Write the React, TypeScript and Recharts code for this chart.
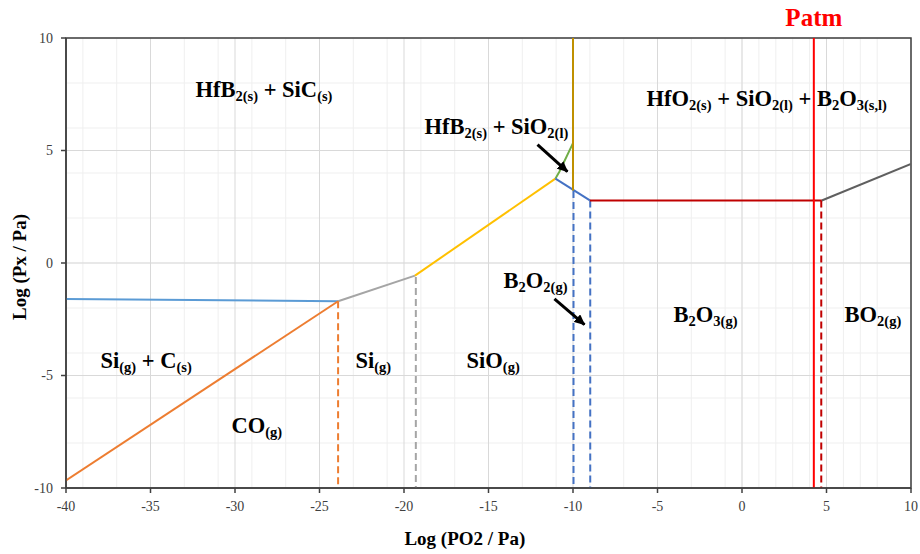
import React from 'react';
import {
  LineChart,
  Line,
  XAxis,
  YAxis,
  CartesianGrid,
  ReferenceDot,
  ReferenceLine,
  ReferenceArea,
} from 'recharts';

// ---------- axes ----------
const xMajorTicks = [-40, -35, -30, -25, -20, -15, -10, -5, 0, 5, 10];
const yMajorTicks = [-10, -5, 0, 5, 10];
const xMinorTicks = [
  -40, -39, -38, -37, -36, -35, -34, -33, -32, -31, -30, -29, -28, -27, -26, -25, -24, -23, -22, -21,
  -20, -19, -18, -17, -16, -15, -14, -13, -12, -11, -10, -9, -8, -7, -6, -5, -4, -3, -2, -1, 0, 1, 2,
  3, 4, 5, 6, 7, 8, 9, 10,
];
const yMinorTicks = [-10, -9, -8, -7, -6, -5, -4, -3, -2, -1, 0, 1, 2, 3, 4, 5, 6, 7, 8, 9, 10];

// ---------- phase boundaries (x = log PO2, y = log Px) ----------
const siCBoundary = [{ x: -40, y: -1.6 }, { x: -23.9, y: -1.7 }];
const coBoundary = [{ x: -40, y: -9.66 }, { x: -23.9, y: -1.7 }];
const siGasBoundary = [{ x: -23.9, y: -1.7 }, { x: -19.35, y: -0.56 }];
const sioBoundary = [{ x: -19.35, y: -0.56 }, { x: -11.04, y: 3.75 }];
const sio2Boundary = [{ x: -11.04, y: 3.75 }, { x: -10.8, y: 4.07 }, { x: -10.0, y: 5.33 }];
const hfo2Boundary = [{ x: -10.0, y: 3.22 }, { x: -10.0, y: 10 }];
const b2o2Boundary = [{ x: -11.04, y: 3.75 }, { x: -9.0, y: 2.78 }];
const b2o3Boundary = [{ x: -9.0, y: 2.78 }, { x: 4.72, y: 2.78 }];
const bo2Boundary = [{ x: 4.72, y: 2.78 }, { x: 10, y: 4.4 }];
const patmLine = [{ x: 4.25, y: -10 }, { x: 4.25, y: 10 }];

const coDash = [{ x: -23.9, y: -1.7 }, { x: -23.9, y: -10 }];
const siDash = [{ x: -19.3, y: -0.62 }, { x: -19.3, y: -10 }];
const b2o2DashA = [{ x: -9.97, y: 3.2 }, { x: -9.97, y: -10 }];
const b2o2DashB = [{ x: -8.98, y: 2.78 }, { x: -8.98, y: -10 }];
const bo2Dash = [{ x: 4.69, y: 2.78 }, { x: 4.69, y: -10 }];

// ---------- annotations ----------
type Part = [string, boolean];
const regionLabels: { x: number; y: number; parts: Part[] }[] = [
  { x: -32.34, y: 7.39, parts: [['HfB', false], ['2(s)', true], [' + SiC', false], ['(s)', true]] },
  { x: -18.79, y: 5.75, parts: [['HfB', false], ['2(s)', true], [' + SiO', false], ['2(l)', true]] },
  {
    x: -5.65,
    y: 6.99,
    parts: [
      ['HfO', false], ['2(s)', true], [' + SiO', false], ['2(l)', true],
      [' + B', false], ['2', true], ['O', false], ['3(s,l)', true],
    ],
  },
  { x: -14.11, y: -1.1, parts: [['B', false], ['2', true], ['O', false], ['2(g)', true]] },
  { x: -22.87, y: -4.65, parts: [['Si', false], ['(g)', true]] },
  { x: -16.3, y: -4.65, parts: [['SiO', false], ['(g)', true]] },
  { x: -37.96, y: -4.65, parts: [['Si', false], ['(g)', true], [' + C', false], ['(s)', true]] },
  { x: -30.21, y: -7.54, parts: [['CO', false], ['(g)', true]] },
  { x: -4.05, y: -2.61, parts: [['B', false], ['2', true], ['O', false], ['3(g)', true]] },
  { x: 6.07, y: -2.61, parts: [['BO', false], ['2(g)', true]] },
];
const patmLabel = { x: 4.25, y: 10.55, text: 'Patm' };

const arrowSegments = [
  [{ x: -12.1, y: 5.26 }, { x: -10.33, y: 4.06 }],
  [{ x: -11.1, y: -1.59 }, { x: -9.32, y: -2.74 }],
];

const FONT = "'Liberation Serif', 'Times New Roman', serif";

const series = [
  { key: 'siC', data: siCBoundary, color: '#5B9BD5', dash: undefined },
  { key: 'co', data: coBoundary, color: '#ED7D31', dash: undefined },
  { key: 'siG', data: siGasBoundary, color: '#A5A5A5', dash: undefined },
  { key: 'sio', data: sioBoundary, color: '#FFC000', dash: undefined },
  { key: 'sio2', data: sio2Boundary, color: '#70AD47', dash: undefined },
  { key: 'b2o2', data: b2o2Boundary, color: '#4472C4', dash: undefined },
  { key: 'hfo2', data: hfo2Boundary, color: '#BF9000', dash: undefined },
  { key: 'coDash', data: coDash, color: '#ED7D31', dash: '7 4' },
  { key: 'siDash', data: siDash, color: '#A5A5A5', dash: '7 4' },
  { key: 'b2o2DashA', data: b2o2DashA, color: '#4472C4', dash: '7 4' },
  { key: 'b2o2DashB', data: b2o2DashB, color: '#4472C4', dash: '7 4' },
  { key: 'bo2Dash', data: bo2Dash, color: '#C00000', dash: '7 4' },
  { key: 'b2o3', data: b2o3Boundary, color: '#C00000', dash: undefined },
  { key: 'bo2', data: bo2Boundary, color: '#5F5F5F', dash: undefined },
  { key: 'patm', data: patmLine, color: '#FF0000', dash: undefined },
];

function RegionText(props: any) {
  const { viewBox, parts, size = 22.5, subSize = 14.5, shift = 4 } = props;
  if (!viewBox) return null;
  let cur = 0;
  return (
    <text
      x={viewBox.x}
      y={viewBox.y}
      fontFamily={FONT}
      fontWeight="bold"
      fontSize={size}
      fill="#000"
      style={{ whiteSpace: 'pre', fontFamily: FONT }}
    >
      {parts.map(([t, sub]: Part, i: number) => {
        const target = sub ? shift : 0;
        const dy = target - cur;
        cur = target;
        return (
          <tspan key={i} dy={dy} fontSize={sub ? subSize : size}>
            {t}
          </tspan>
        );
      })}
    </text>
  );
}

function PatmText(props: any) {
  const { viewBox } = props;
  if (!viewBox) return null;
  return (
    <text
      x={viewBox.x}
      y={viewBox.y}
      fontFamily={FONT}
      fontWeight="bold"
      fontSize={25}
      fill="#FF0000"
      textAnchor="middle"
      style={{ fontFamily: FONT }}
    >
      {patmLabel.text}
    </text>
  );
}

function XTick(props: any) {
  const { x, y, payload } = props;
  return (
    <text
      x={x}
      y={y}
      dy="0.71em"
      textAnchor="middle"
      fontFamily={FONT}
      fontSize={14}
      fill="#404040"
      style={{ fontFamily: FONT }}
    >
      {payload.value}
    </text>
  );
}

function YTick(props: any) {
  const { x, y, payload } = props;
  return (
    <text
      x={x}
      y={y}
      dy="0.355em"
      textAnchor="end"
      fontFamily={FONT}
      fontSize={14}
      fill="#404040"
      style={{ fontFamily: FONT }}
    >
      {payload.value}
    </text>
  );
}

export default function App() {
  return (
    <div
      style={{ position: 'absolute', left: 0, top: 0, background: '#fff', fontFamily: FONT }}
    >
      <LineChart
        width={920}
        height={554}
        margin={{ top: 38, right: 9, bottom: 0, left: 0 }}
        style={{ fontFamily: FONT }}
      >
        <defs>
          <marker
            id="arrowHead"
            markerUnits="userSpaceOnUse"
            markerWidth={11}
            markerHeight={10}
            refX={10}
            refY={5}
            orient="auto"
          >
            <path d="M0,0 L11,5 L0,10 z" fill="#000" />
          </marker>
        </defs>
        <XAxis
          xAxisId="minor"
          type="number"
          dataKey="x"
          domain={[-40, 10]}
          ticks={xMinorTicks}
          allowDataOverflow
          hide
        />
        <YAxis
          yAxisId="minor"
          type="number"
          domain={[-10, 10]}
          ticks={yMinorTicks}
          allowDataOverflow
          hide
        />
        <CartesianGrid xAxisId="minor" yAxisId="minor" stroke="#EFEFEF" strokeWidth={1} />
        <CartesianGrid stroke="#D9D9D9" strokeWidth={1} />
        <XAxis
          type="number"
          dataKey="x"
          domain={[-40, 10]}
          ticks={xMajorTicks}
          allowDataOverflow
          height={66}
          tickSize={5}
          tickMargin={8}
          tick={<XTick />}
          axisLine={{ stroke: '#404040', strokeWidth: 1.5 }}
          tickLine={{ stroke: '#404040', strokeWidth: 1.5 }}
          label={(p: any) => {
            const vb = p.viewBox;
            if (!vb) return null;
            return (
              <text
                x={vb.x + vb.width * 0.472}
                y={vb.y + 57}
                textAnchor="middle"
                fontFamily={FONT}
                fontWeight="bold"
                fontSize={19}
                fill="#000"
                style={{ fontFamily: FONT }}
              >
                Log (PO2 / Pa)
              </text>
            );
          }}
        />
        <YAxis
          type="number"
          domain={[-10, 10]}
          ticks={yMajorTicks}
          allowDataOverflow
          width={66}
          tickSize={5}
          tickMargin={8}
          tick={<YTick />}
          axisLine={{ stroke: '#404040', strokeWidth: 1.5 }}
          tickLine={{ stroke: '#404040', strokeWidth: 1.5 }}
          label={(p: any) => {
            const vb = p.viewBox;
            if (!vb) return null;
            const cx = vb.x + 26;
            const cy = vb.y + vb.height / 2 + 4;
            return (
              <text
                x={cx}
                y={cy}
                textAnchor="middle"
                transform={`rotate(-90, ${cx}, ${cy})`}
                fontFamily={FONT}
                fontWeight="bold"
                fontSize={19}
                fill="#000"
                style={{ fontFamily: FONT }}
              >
                Log (Px / Pa)
              </text>
            );
          }}
        />
        <ReferenceArea
          x1={-40}
          x2={10}
          y1={-10}
          y2={10}
          fill="none"
          stroke="#404040"
          strokeWidth={1.5}
          fillOpacity={0}
        />
        {series.map((s) => (
          <Line
            key={s.key}
            data={s.data}
            dataKey="y"
            type="linear"
            stroke={s.color}
            strokeWidth={2}
            strokeDasharray={s.dash}
            dot={false}
            activeDot={false}
            isAnimationActive={false}
            legendType="none"
          />
        ))}
        {arrowSegments.map((seg, i) => (
          <ReferenceLine
            key={`arrow-${i}`}
            segment={seg}
            stroke="#000"
            strokeWidth={3}
            markerEnd="url(#arrowHead)"
          />
        ))}
        {regionLabels.map((l, i) => (
          <ReferenceDot
            key={`lbl-${i}`}
            x={l.x}
            y={l.y}
            r={0}
            fill="none"
            stroke="none"
            ifOverflow="visible"
            label={(p: any) => <RegionText viewBox={p.viewBox} parts={l.parts} />}
          />
        ))}
        <ReferenceDot
          x={patmLabel.x}
          y={patmLabel.y}
          r={0}
          fill="none"
          stroke="none"
          ifOverflow="visible"
          label={(p: any) => <PatmText viewBox={p.viewBox} />}
        />
      </LineChart>
    </div>
  );
}
